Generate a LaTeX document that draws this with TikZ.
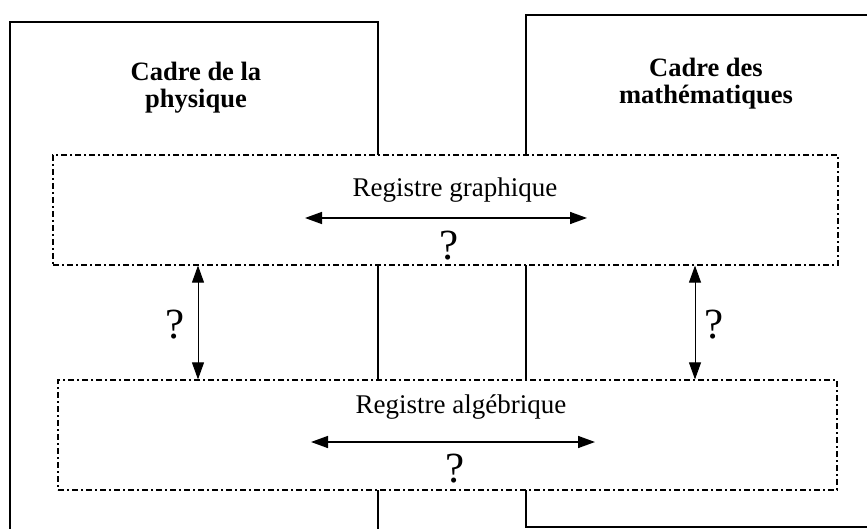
\documentclass[tikz,border=0pt]{standalone}
\usepackage{fontspec}
\setmainfont{Liberation Serif}
\usetikzlibrary{arrows.meta}
\begin{document}
\begin{tikzpicture}[x=1pt,y=-1pt,
 frame/.style={line width=1.4pt},
 reg/.style={draw, fill=white, line width=1.2pt, dash pattern=on 6pt off 3pt on 2pt off 3pt, inner sep=0pt},
 harr/.style={line width=1.5pt, {Triangle[length=17pt,width=12pt]}-{Triangle[length=17pt,width=12pt]}},
 varr/.style={line width=0.9pt, {Triangle[length=17pt,width=12pt]}-{Triangle[length=17pt,width=12pt]}},
 lab/.style={font=\fontsize{27}{30}\selectfont, inner sep=0pt, anchor=base},
 qm/.style={font=\fontsize{43}{48}\selectfont, inner sep=0pt, anchor=base},
 title/.style={font=\fontsize{26.5}{27}\selectfont\bfseries, align=center, inner sep=0pt}]
\useasboundingbox (0,0) rectangle (867,529);
% frames
\draw[frame] (10,529) -- (10,22) -- (378,22) -- (378,529);
\draw[frame] (867,15) -- (526,15) -- (526,527) -- (867,527);
\node[title] (phys) at (196,88) {Cadre de la\\physique};
\node[title] (math) at (706,84) {Cadre des\\mathématiques};
% registers
\node[reg, minimum width=785pt, minimum height=110pt] (g) at (445.5,210) {};
\node[reg, minimum width=779pt, minimum height=110pt] (a) at (447.5,435) {};
\node[lab] (gt) at (455,197) {Registre graphique};
\node[lab] (at) at (461,413) {Registre algébrique};
\node[qm] (gq) at (449.5,260) {?};
\node[qm] (aq) at (455,482) {?};
\coordinate (g1) at (305,218);
\coordinate (g2) at (587,218);
\coordinate (a1) at (311,442);
\coordinate (a2) at (595,442);
\draw[harr] (g1) -- (g2);
\draw[harr] (a1) -- (a2);
% vertical links
\coordinate (lx) at (198,0);
\coordinate (rx) at (695,0);
\draw[varr] (g.south -| lx) -- (a.north -| lx);
\draw[varr] (g.south -| rx) -- (a.north -| rx);
\node[qm] (lq) at (175,338) {?};
\node[qm] (rq) at (714,338) {?};
\end{tikzpicture}
\end{document}
